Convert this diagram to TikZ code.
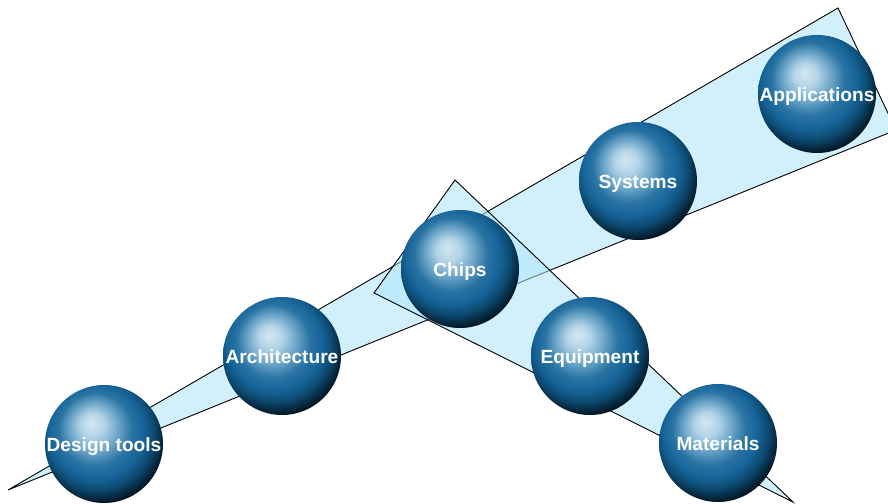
\documentclass[tikz,border=0pt]{standalone}
\usepackage{fontspec}
\setmainfont{Liberation Sans}
\definecolor{wedgefill}{HTML}{ADE4FA}
\definecolor{orbhl}{HTML}{D3E8F2}
\definecolor{orbhlb}{HTML}{B3D4E6}
\definecolor{orbmid}{HTML}{6AA4C8}
\definecolor{orbblue}{HTML}{2A74A3}
\definecolor{orbdeep}{HTML}{17649A}
\definecolor{orbshade}{HTML}{0C4A70}
\definecolor{orbdark}{HTML}{03192A}
\definecolor{orbrim}{HTML}{0B3A57}
% glossy sphere: highlight up and to the left, dark lower right with a faint rim
\pgfdeclareradialshading{orb}{\pgfpoint{-5.5bp}{9bp}}{%
  color(0bp)=(orbhl); color(5bp)=(orbhlb); color(10.5bp)=(orbmid);
  color(15.5bp)=(orbblue); color(20bp)=(orbdeep); color(24bp)=(orbshade);
  color(28.5bp)=(orbdark); color(33bp)=(orbdark); color(36bp)=(orbrim);
  color(50bp)=(orbrim)}
\tikzset{
  sphere/.style={circle, minimum size=118bp, inner sep=0pt, shading=orb,
    text=white, font=\bfseries\fontsize{19.2}{21}\selectfont},
  wedge/.style={fill=wedgefill, fill opacity=0.55, draw=black, line width=0.9bp,
    line join=miter}
}
\begin{document}
\begin{tikzpicture}[x=1bp, y=-1bp]
  \useasboundingbox (0,0) rectangle (888,504);
  \begin{scope}
    \clip (0,0) rectangle (888,504);
    % long wedge from the lower left up to the top right
    \coordinate (wa) at (8,490);
    \coordinate (wb) at (838,8);
    \coordinate (wc) at (896,130);
    \draw[wedge] (wa) -- (wb) -- (wc) -- cycle;
    % short wedge from the chip level down to the lower right
    \coordinate (va) at (455,180);
    \coordinate (vb) at (793,502);
    \coordinate (vc) at (374,293);
    \draw[wedge] (va) -- (vb) -- (vc) -- cycle;
  \end{scope}
  \begin{scope}[every node/.append style={text depth=0pt}]
  \node[sphere] (design)  at (104,444) {\raisebox{-2bp}{Design tools}};
  \node[sphere] (arch)    at (282,356) {\raisebox{-2bp}{Architecture}};
  \node[sphere] (chips)   at (460,269) {\raisebox{-2bp}{Chips}};
  \node[sphere] (equip)   at (590,356) {\raisebox{-2bp}{Equipment}};
  \node[sphere] (mater)   at (718,443) {\raisebox{-2bp}{Materials}};
  \node[sphere] (systems) at (638,181) {\raisebox{-2bp}{Systems}};
  \node[sphere] (apps)    at (817,94)  {\raisebox{-2bp}{Applications}};
  \end{scope}
\end{tikzpicture}
\end{document}
